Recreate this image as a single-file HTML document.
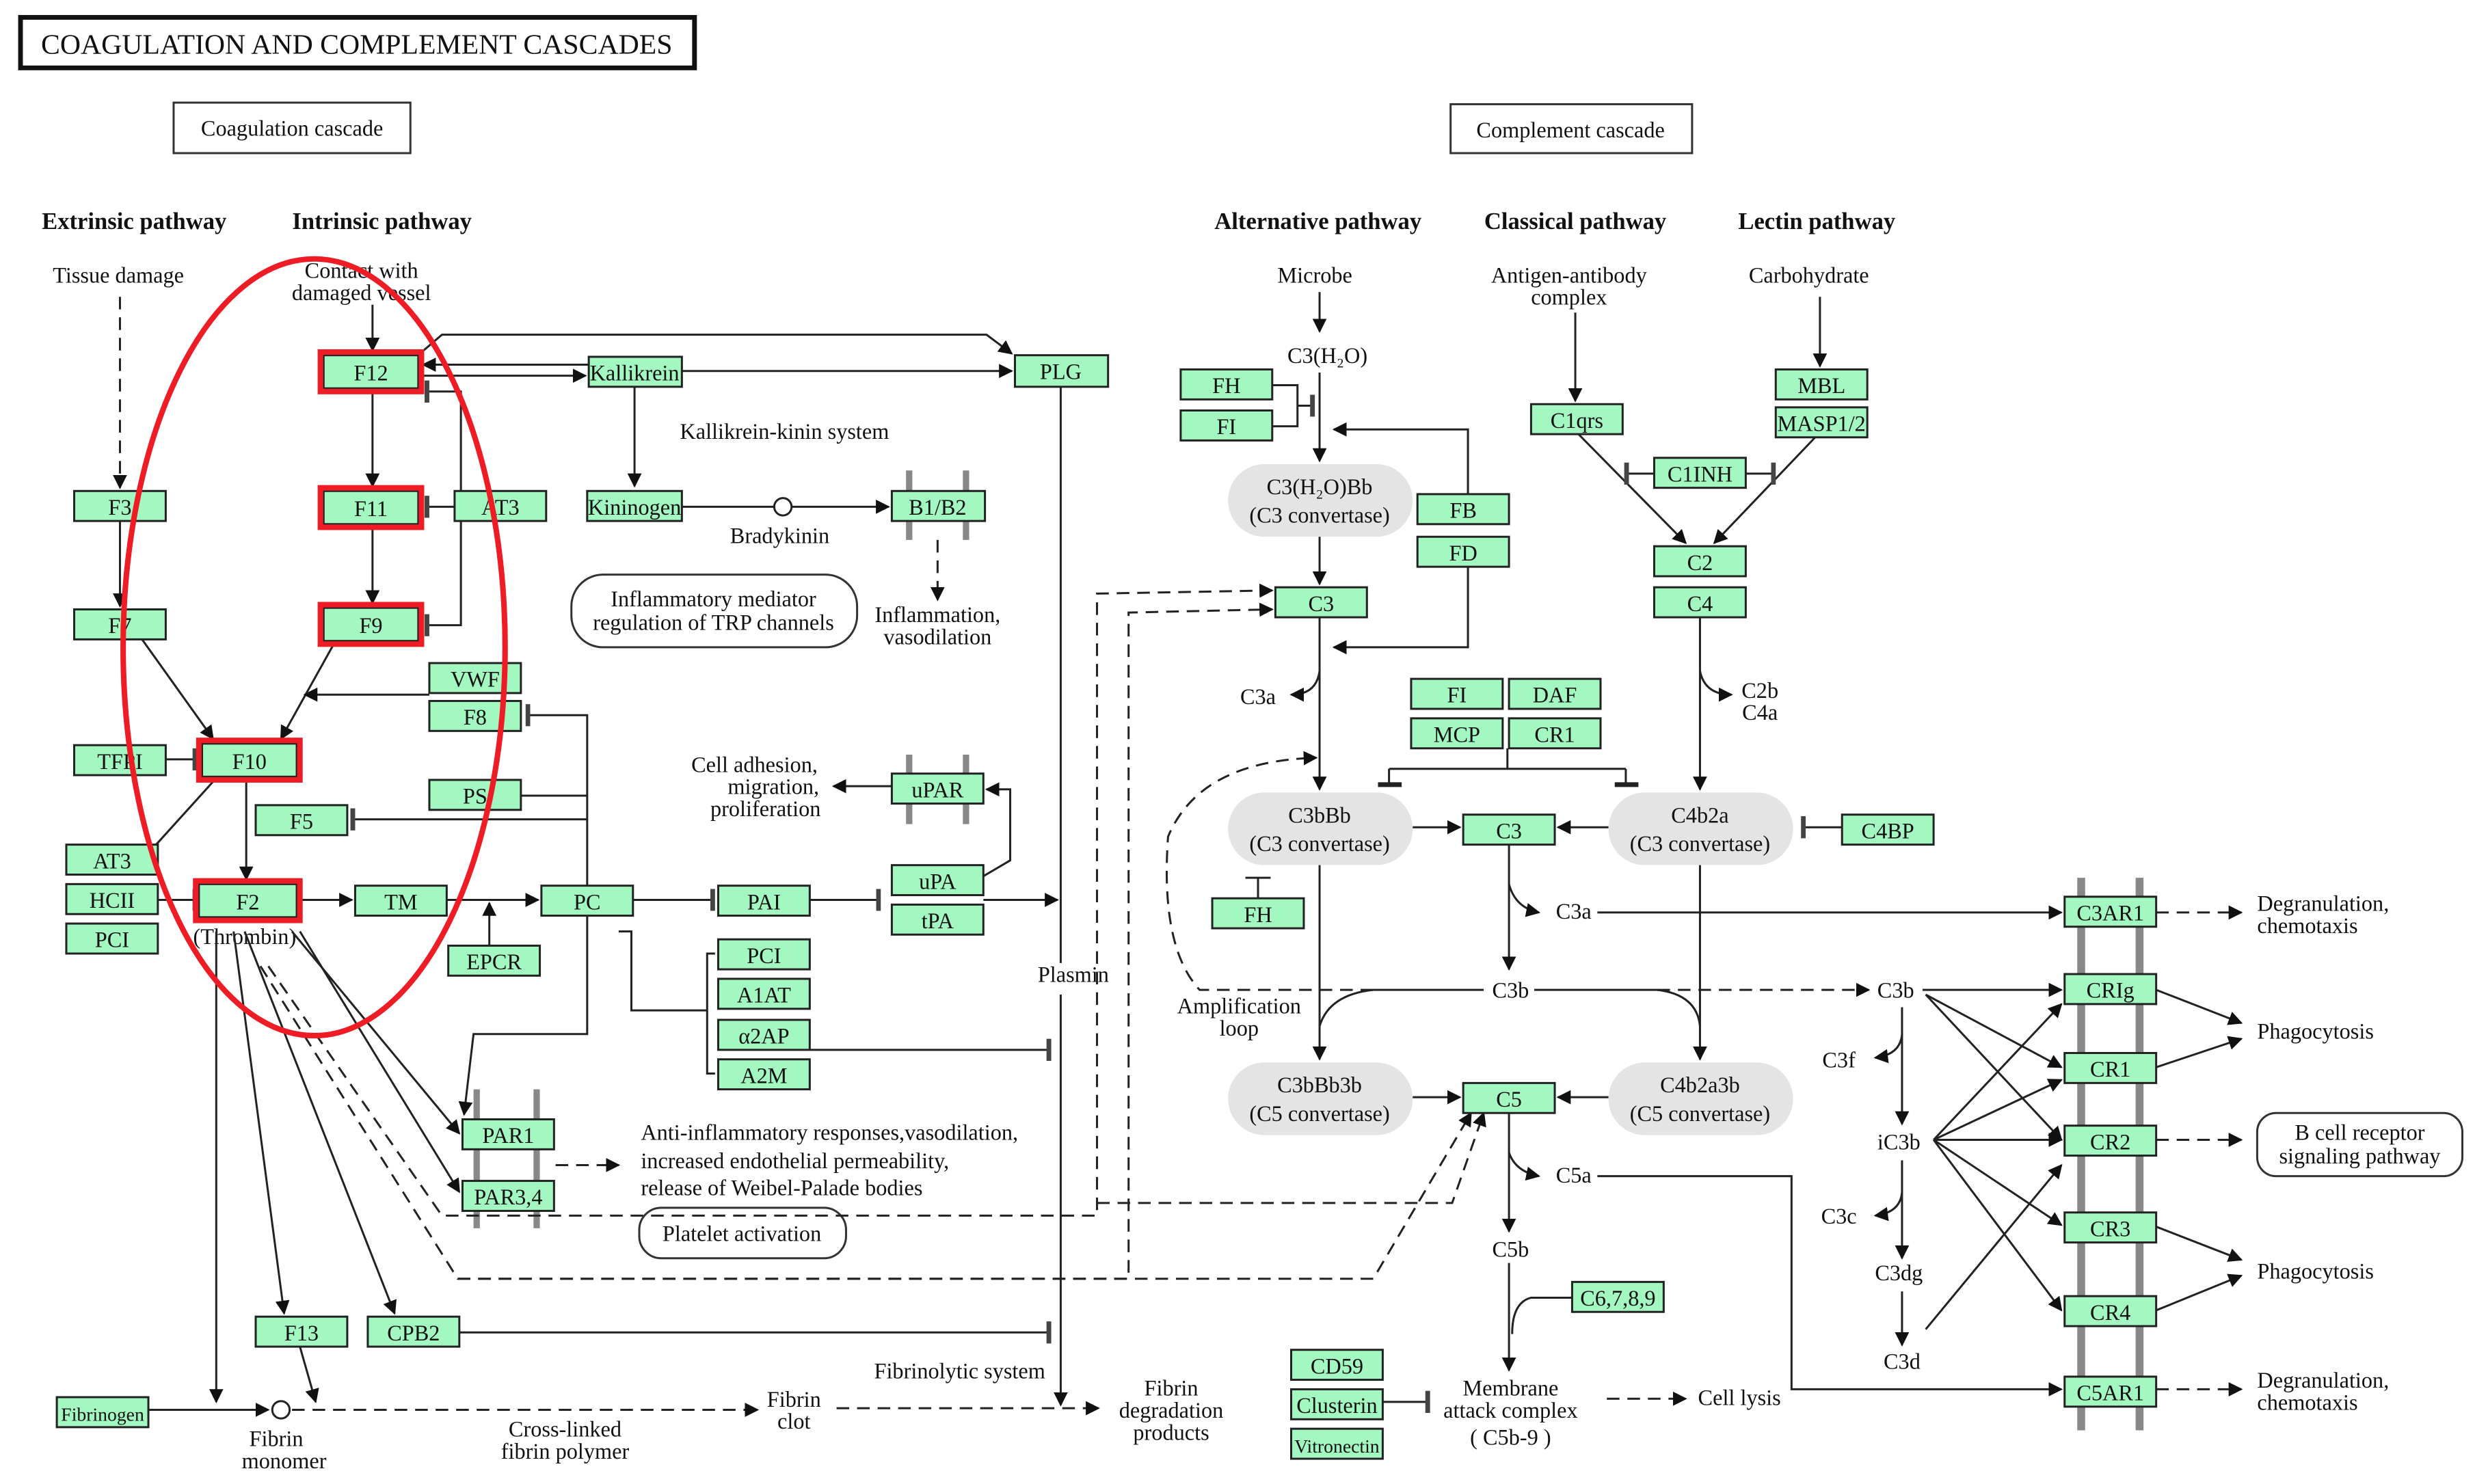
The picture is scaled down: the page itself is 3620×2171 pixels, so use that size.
<!DOCTYPE html>
<html><head><meta charset="utf-8"><style>
html,body{margin:0;padding:0;background:#fff;}
svg{display:block;}
text{font-family:"Liberation Serif",serif;font-size:14px;fill:#111;}
.n rect{fill:#a3f7c0;stroke:#222;stroke-width:1.3;}
.n text{text-anchor:middle;}
.r{fill:none;stroke:#ee1c25;stroke-width:3.5;}
.l{fill:none;stroke:#222;stroke-width:1.3;}
.d{fill:none;stroke:#222;stroke-width:1.3;stroke-dasharray:8,5;}
.e{fill:#e4e4e4;}
.c{text-anchor:middle;}
.b{font-weight:bold;font-size:15px;}
</style></head><body>
<svg width="3620" height="2171" viewBox="0 0 1568 940" preserveAspectRatio="none" xmlns="http://www.w3.org/2000/svg">
<defs>
<marker id="a" viewBox="0 0 10 10" refX="9" refY="5" markerWidth="9" markerHeight="9" orient="auto" markerUnits="userSpaceOnUse"><path d="M0,0L10,5L0,10z" fill="#111"/></marker>
<marker id="t" viewBox="0 0 4 14" refX="2" refY="7" markerWidth="4" markerHeight="14" orient="auto" markerUnits="userSpaceOnUse"><rect x="0" y="0" width="3" height="14" fill="#444"/></marker>
</defs>
<rect width="1568" height="940" fill="#fff"/>
<rect x="13" y="11" width="427" height="32" fill="#fff" stroke="#111" stroke-width="3"/>
<text x="226" y="34" class="c" style="font-size:18px" textLength="400" lengthAdjust="spacingAndGlyphs">COAGULATION AND COMPLEMENT CASCADES</text>
<rect x="110" y="65" width="150" height="32" fill="#fff" stroke="#333" stroke-width="1.3"/>
<text x="185" y="86" class="c">Coagulation cascade</text>
<rect x="919" y="66" width="153" height="31" fill="#fff" stroke="#333" stroke-width="1.3"/>
<text x="995" y="87" class="c">Complement cascade</text>
<text x="85" y="145" class="c b">Extrinsic pathway</text>
<text x="242" y="145" class="c b">Intrinsic pathway</text>
<text x="835" y="145" class="c b">Alternative pathway</text>
<text x="998" y="145" class="c b">Classical pathway</text>
<text x="1151" y="145" class="c b">Lectin pathway</text>

<text x="75" y="179" class="c">Tissue damage</text>
<text x="229" y="176" class="c">Contact with</text>
<text x="229" y="190" class="c">damaged vessel</text>
<text x="497" y="278" class="c">Kallikrein-kinin system</text>
<text x="494" y="344" class="c">Bradykinin</text>
<rect x="362" y="364" width="181" height="46" rx="20" fill="#fff" stroke="#333" stroke-width="1.3"/>
<text x="452" y="384" class="c">Inflammatory mediator</text>
<text x="452" y="399" class="c">regulation of TRP channels</text>
<text x="594" y="394" class="c">Inflammation,</text>
<text x="594" y="408" class="c">vasodilation</text>
<text x="478" y="489" class="c">Cell adhesion,</text>
<text x="490" y="503" class="c">migration,</text>
<text x="485" y="517" class="c">proliferation</text>
<text x="155" y="598" class="c">(Thrombin)</text>
<text x="680" y="622" class="c">Plasmin</text>
<text x="406" y="722">Anti-inflammatory responses,vasodilation,</text>
<text x="406" y="740">increased endothelial permeability,</text>
<text x="406" y="757">release of Weibel-Palade bodies</text>
<rect x="405" y="765" width="131" height="32" rx="14" fill="#fff" stroke="#333" stroke-width="1.3"/>
<text x="470" y="786" class="c">Platelet activation</text>
<text x="608" y="873" class="c">Fibrinolytic system</text>
<text x="503" y="891" class="c">Fibrin</text>
<text x="503" y="905" class="c">clot</text>
<text x="742" y="884" class="c">Fibrin</text>
<text x="742" y="898" class="c">degradation</text>
<text x="742" y="912" class="c">products</text>
<text x="175" y="916" class="c">Fibrin</text>
<text x="180" y="930" class="c">monomer</text>
<text x="358" y="910" class="c">Cross-linked</text>
<text x="358" y="924" class="c">fibrin polymer</text>

<text x="833" y="179" class="c">Microbe</text>
<text x="841" y="230" class="c">C3(H₂O)</text>
<text x="994" y="179" class="c">Antigen-antibody</text>
<text x="994" y="193" class="c">complex</text>
<text x="1146" y="179" class="c">Carbohydrate</text>
<text x="797" y="446" class="c">C3a</text>
<text x="1115" y="442" class="c">C2b</text>
<text x="1115" y="456" class="c">C4a</text>
<text x="997" y="582" class="c">C3a</text>
<text x="957" y="632" class="c">C3b</text>
<text x="785" y="642" class="c">Amplification</text>
<text x="785" y="656" class="c">loop</text>
<text x="997" y="749" class="c">C5a</text>
<text x="957" y="796" class="c">C5b</text>
<text x="957" y="884" class="c">Membrane</text>
<text x="957" y="898" class="c">attack complex</text>
<text x="957" y="915" class="c">( C5b-9 )</text>
<text x="1102" y="890" class="c">Cell lysis</text>
<text x="1201" y="632" class="c">C3b</text>
<text x="1165" y="676" class="c">C3f</text>
<text x="1203" y="728" class="c">iC3b</text>
<text x="1165" y="775" class="c">C3c</text>
<text x="1203" y="811" class="c">C3dg</text>
<text x="1205" y="867" class="c">C3d</text>
<text x="1430" y="577">Degranulation,</text>
<text x="1430" y="591">chemotaxis</text>
<text x="1430" y="658">Phagocytosis</text>
<rect x="1430" y="705" width="130" height="40" rx="12" fill="#fff" stroke="#333" stroke-width="1.3"/>
<text x="1495" y="722" class="c">B cell receptor</text>
<text x="1495" y="737" class="c">signaling pathway</text>
<text x="1430" y="810">Phagocytosis</text>
<text x="1430" y="879">Degranulation,</text>
<text x="1430" y="893">chemotaxis</text>

<rect class="e" x="778" y="294" width="117" height="46" rx="23"/>
<text x="836" y="313" class="c">C3(H₂O)Bb</text><text x="836" y="331" class="c">(C3 convertase)</text>
<rect class="e" x="778" y="502" width="117" height="46" rx="23"/>
<text x="836" y="521" class="c">C3bBb</text><text x="836" y="539" class="c">(C3 convertase)</text>
<rect class="e" x="1019" y="502" width="117" height="46" rx="23"/>
<text x="1077" y="521" class="c">C4b2a</text><text x="1077" y="539" class="c">(C3 convertase)</text>
<rect class="e" x="778" y="673" width="117" height="46" rx="23"/>
<text x="836" y="692" class="c">C3bBb3b</text><text x="836" y="710" class="c">(C5 convertase)</text>
<rect class="e" x="1019" y="673" width="117" height="46" rx="23"/>
<text x="1077" y="692" class="c">C4b2a3b</text><text x="1077" y="710" class="c">(C5 convertase)</text>

<g fill="#888">
<rect x="574" y="298" width="4" height="44"/><rect x="610" y="298" width="4" height="44"/>
<rect x="574" y="478" width="4" height="44"/><rect x="610" y="478" width="4" height="44"/>
<rect x="300" y="690" width="4" height="88"/><rect x="338" y="690" width="4" height="88"/>
<rect x="1316" y="556" width="5" height="350"/><rect x="1353" y="556" width="5" height="350"/>
</g>

<g class="l">
<path d="M76,330V384" marker-end="url(#a)"/>
<path d="M90,405L135,468" marker-end="url(#a)"/>
<path d="M212,407L178,468" marker-end="url(#a)"/>
<path d="M105,481H124" marker-end="url(#t)"/>
<path d="M156,493V557" marker-end="url(#a)"/>
<path d="M236,193V222" marker-end="url(#a)"/>
<path d="M236,246V308" marker-end="url(#a)"/>
<path d="M236,332V382" marker-end="url(#a)"/>
<path d="M288,321H270" marker-end="url(#t)"/>
<path d="M292,321V248H270" marker-end="url(#t)"/>
<path d="M292,321V396H270" marker-end="url(#t)"/>
<path d="M373,231H268" marker-end="url(#a)"/>
<path d="M266,238H371" marker-end="url(#a)"/>
<path d="M266,224L280,212H625L641,224" marker-end="url(#a)"/>
<path d="M432,235H641" marker-end="url(#a)"/>
<path d="M402,245V308" marker-end="url(#a)"/>
<path d="M432,321H490"/>
<path d="M502,321H563" marker-end="url(#a)"/>
<path d="M672,245V610"/>
<path d="M672,630V890" marker-end="url(#a)"/>
<path d="M272,440H193" marker-end="url(#a)"/>
<path d="M372,561V453H334" marker-end="url(#t)"/>
<path d="M372,519H223" marker-end="url(#t)"/>
<path d="M330,504H372"/>
<path d="M188,570H223" marker-end="url(#a)"/>
<path d="M283,570H341" marker-end="url(#a)"/>
<path d="M310,599V572" marker-end="url(#a)"/>
<path d="M401,570H452" marker-end="url(#t)"/>
<path d="M513,570H557" marker-end="url(#t)"/>
<path d="M623,570H670" marker-end="url(#a)"/>
<path d="M623,555L640,545V500H625" marker-end="url(#a)"/>
<path d="M565,498H528" marker-end="url(#a)"/>
<path d="M453,604H448V680H453M448,640H400V590H392"/>
<path d="M513,665H665" marker-end="url(#t)"/>
<path d="M372,580V655H300L294,706" marker-end="url(#a)"/>
<path d="M148,590L180,832" marker-end="url(#a)"/>
<path d="M155,590L250,832" marker-end="url(#a)"/>
<path d="M185,590L291,718" marker-end="url(#a)"/>
<path d="M190,590L291,755" marker-end="url(#a)"/>
<path d="M137,590V888" marker-end="url(#a)"/>
<path d="M190,853L200,888" marker-end="url(#a)"/>
<path d="M291,844H665" marker-end="url(#t)"/>
<path d="M94,893H170" marker-end="url(#a)"/>
<path d="M136,494L98,536"/>
<path d="M100,570H124" marker-end="url(#t)"/>
<path d="M836,185V210" marker-end="url(#a)"/>
<path d="M836,236V292" marker-end="url(#a)"/>
<path d="M806,244H822V270H806M822,257H832" marker-end="url(#t)"/>
<path d="M930,313V272H845" marker-end="url(#a)"/>
<path d="M836,340V370" marker-end="url(#a)"/>
<path d="M930,359V410H845" marker-end="url(#a)"/>
<path d="M836,391V500" marker-end="url(#a)"/>
<path d="M836,425Q834,440 818,440" marker-end="url(#a)"/>
<path d="M998,198V254" marker-end="url(#a)"/>
<path d="M1153,188V232" marker-end="url(#a)"/>
<path d="M1000,275L1068,344" marker-end="url(#a)"/>
<path d="M1150,277L1086,344" marker-end="url(#a)"/>
<path d="M1048,300H1030" marker-end="url(#t)"/>
<path d="M1106,300H1124" marker-end="url(#t)"/>
<path d="M1077,391V500" marker-end="url(#a)"/>
<path d="M1077,425Q1080,440 1097,440" marker-end="url(#a)"/>
<path d="M955,474V487M880,487H1030M880,487V497M1030,487V497"/>
<path d="M873,497H888M1023,497H1038" stroke-width="3"/>
<path d="M895,524H925" marker-end="url(#a)"/>
<path d="M1019,524H987" marker-end="url(#a)"/>
<path d="M1167,524H1142" marker-end="url(#t)"/>
<path d="M797,569V556M789,556H805" />
<path d="M956,535V614" marker-end="url(#a)"/>
<path d="M956,560Q960,575 975,578" marker-end="url(#a)"/>
<path d="M1012,578H1306" marker-end="url(#a)"/>
<path d="M940,627H870Q842,630 836,650"/>
<path d="M972,627H1050Q1075,630 1077,650"/>
<path d="M836,548V671" marker-end="url(#a)"/>
<path d="M1077,548V671" marker-end="url(#a)"/>
<path d="M895,695H925" marker-end="url(#a)"/>
<path d="M1019,695H987" marker-end="url(#a)"/>
<path d="M956,705V780" marker-end="url(#a)"/>
<path d="M956,730Q960,742 975,745" marker-end="url(#a)"/>
<path d="M1012,745H1135V880H1306" marker-end="url(#a)"/>
<path d="M956,800V868" marker-end="url(#a)"/>
<path d="M996,822H970Q958,825 958,845"/>
<path d="M876,888H905" marker-end="url(#t)"/>
<path d="M1218,627H1306" marker-end="url(#a)"/>
<path d="M1220,630L1306,676" marker-end="url(#a)"/>
<path d="M1220,630L1306,722" marker-end="url(#a)"/>
<path d="M1205,638V712" marker-end="url(#a)"/>
<path d="M1205,655Q1204,668 1188,670" marker-end="url(#a)"/>
<path d="M1205,735V797" marker-end="url(#a)"/>
<path d="M1205,755Q1204,768 1188,770" marker-end="url(#a)"/>
<path d="M1205,818V852" marker-end="url(#a)"/>
<path d="M1225,722L1306,636" marker-end="url(#a)"/>
<path d="M1225,722L1306,684" marker-end="url(#a)"/>
<path d="M1225,722H1306" marker-end="url(#a)"/>
<path d="M1225,722L1306,776" marker-end="url(#a)"/>
<path d="M1225,722L1306,830" marker-end="url(#a)"/>
<path d="M1220,842L1306,738" marker-end="url(#a)"/>
<path d="M1366,627L1420,648" marker-end="url(#a)"/>
<path d="M1366,676L1420,658" marker-end="url(#a)"/>
<path d="M1366,777L1420,798" marker-end="url(#a)"/>
<path d="M1366,830L1420,808" marker-end="url(#a)"/>
</g>
<g class="d">
<path d="M76,188V309" marker-end="url(#a)"/>
<path d="M594,342V380" marker-end="url(#a)"/>
<path d="M352,738H392" marker-end="url(#a)"/>
<path d="M185,893H480" marker-end="url(#a)"/>
<path d="M530,892H696" marker-end="url(#a)"/>
<path d="M165,612L290,810H715V388L806,386" marker-end="url(#a)"/>
<path d="M170,612L280,770H695V376L806,374" marker-end="url(#a)"/>
<path d="M290,810H870L932,705" marker-end="url(#a)"/>
<path d="M695,762H920L940,705" marker-end="url(#a)"/>
<path d="M1018,886H1068" marker-end="url(#a)"/>
<path d="M870,627H760Q735,600 740,530Q760,482 834,480" marker-end="url(#a)"/>
<path d="M1050,627H1184" marker-end="url(#a)"/>
<path d="M1366,578H1420" marker-end="url(#a)"/>
<path d="M1366,722H1420" marker-end="url(#a)"/>
<path d="M1366,880H1420" marker-end="url(#a)"/>
</g>
<circle cx="496" cy="321" r="5.5" fill="#fff" stroke="#222" stroke-width="1.3"/>
<circle cx="178" cy="893" r="5.5" fill="#fff" stroke="#222" stroke-width="1.3"/>

<g class="n">
<rect x="47" y="311" width="58" height="19"/><text x="76" y="326">F3</text>
<rect x="47" y="386" width="58" height="19"/><text x="76" y="401">F7</text>
<rect x="47" y="472" width="58" height="19"/><text x="76" y="487">TFPI</text>
<rect x="42" y="535" width="58" height="19"/><text x="71" y="550">AT3</text>
<rect x="42" y="560" width="58" height="19"/><text x="71" y="575">HCII</text>
<rect x="42" y="585" width="58" height="19"/><text x="71" y="600">PCI</text>
<rect x="205" y="225" width="60" height="21"/><text x="235" y="241">F12</text>
<rect x="205" y="311" width="60" height="21"/><text x="235" y="327">F11</text>
<rect x="205" y="385" width="60" height="21"/><text x="235" y="401">F9</text>
<rect x="128" y="471" width="60" height="21"/><text x="158" y="487">F10</text>
<rect x="126" y="560" width="62" height="21"/><text x="157" y="576">F2</text>
<rect x="288" y="311" width="58" height="19"/><text x="317" y="326">AT3</text>
<rect x="373" y="226" width="59" height="19"/><text x="402" y="241">Kallikrein</text>
<rect x="643" y="225" width="59" height="20"/><text x="672" y="240">PLG</text>
<rect x="372" y="311" width="60" height="19"/><text x="402" y="326">Kininogen</text>
<rect x="565" y="311" width="59" height="19"/><text x="594" y="326">B1/B2</text>
<rect x="272" y="420" width="58" height="19"/><text x="301" y="435">VWF</text>
<rect x="272" y="444" width="58" height="19"/><text x="301" y="459">F8</text>
<rect x="272" y="494" width="58" height="19"/><text x="301" y="509">PS</text>
<rect x="162" y="510" width="58" height="19"/><text x="191" y="525">F5</text>
<rect x="565" y="490" width="58" height="19"/><text x="594" y="505">uPAR</text>
<rect x="225" y="561" width="58" height="19"/><text x="254" y="576">TM</text>
<rect x="343" y="561" width="58" height="19"/><text x="372" y="576">PC</text>
<rect x="455" y="561" width="58" height="19"/><text x="484" y="576">PAI</text>
<rect x="565" y="548" width="58" height="19"/><text x="594" y="563">uPA</text>
<rect x="565" y="573" width="58" height="19"/><text x="594" y="588">tPA</text>
<rect x="284" y="599" width="58" height="19"/><text x="313" y="614">EPCR</text>
<rect x="455" y="595" width="58" height="19"/><text x="484" y="610">PCI</text>
<rect x="455" y="620" width="58" height="19"/><text x="484" y="635">A1AT</text>
<rect x="455" y="646" width="58" height="19"/><text x="484" y="661">α2AP</text>
<rect x="455" y="671" width="58" height="19"/><text x="484" y="686">A2M</text>
<rect x="293" y="709" width="58" height="19"/><text x="322" y="724">PAR1</text>
<rect x="293" y="748" width="58" height="19"/><text x="322" y="763">PAR3,4</text>
<rect x="162" y="834" width="58" height="19"/><text x="191" y="849">F13</text>
<rect x="233" y="834" width="58" height="19"/><text x="262" y="849">CPB2</text>
<rect x="36" y="885" width="58" height="19"/><text x="65" y="900" style="font-size:12px">Fibrinogen</text>
<rect x="748" y="234" width="58" height="19"/><text x="777" y="249">FH</text>
<rect x="748" y="260" width="58" height="19"/><text x="777" y="275">FI</text>
<rect x="898" y="313" width="58" height="19"/><text x="927" y="328">FB</text>
<rect x="898" y="340" width="58" height="19"/><text x="927" y="355">FD</text>
<rect x="808" y="372" width="58" height="19"/><text x="837" y="387">C3</text>
<rect x="970" y="256" width="58" height="19"/><text x="999" y="271">C1qrs</text>
<rect x="1125" y="234" width="58" height="19"/><text x="1154" y="249">MBL</text>
<rect x="1125" y="258" width="58" height="19"/><text x="1154" y="273">MASP1/2</text>
<rect x="1048" y="290" width="58" height="19"/><text x="1077" y="305">C1INH</text>
<rect x="1048" y="346" width="58" height="19"/><text x="1077" y="361">C2</text>
<rect x="1048" y="372" width="58" height="19"/><text x="1077" y="387">C4</text>
<rect x="894" y="430" width="58" height="19"/><text x="923" y="445">FI</text>
<rect x="956" y="430" width="58" height="19"/><text x="985" y="445">DAF</text>
<rect x="894" y="455" width="58" height="19"/><text x="923" y="470">MCP</text>
<rect x="956" y="455" width="58" height="19"/><text x="985" y="470">CR1</text>
<rect x="927" y="516" width="58" height="19"/><text x="956" y="531">C3</text>
<rect x="1167" y="516" width="58" height="19"/><text x="1196" y="531">C4BP</text>
<rect x="768" y="569" width="58" height="19"/><text x="797" y="584">FH</text>
<rect x="927" y="686" width="58" height="19"/><text x="956" y="701">C5</text>
<rect x="996" y="812" width="58" height="19"/><text x="1025" y="827">C6,7,8,9</text>
<rect x="818" y="855" width="58" height="19"/><text x="847" y="870">CD59</text>
<rect x="818" y="880" width="58" height="19"/><text x="847" y="895">Clusterin</text>
<rect x="818" y="905" width="58" height="19"/><text x="847" y="920" style="font-size:12px">Vitronectin</text>
<rect x="1308" y="568" width="58" height="19"/><text x="1337" y="583">C3AR1</text>
<rect x="1308" y="617" width="58" height="19"/><text x="1337" y="632">CRIg</text>
<rect x="1308" y="667" width="58" height="19"/><text x="1337" y="682">CR1</text>
<rect x="1308" y="713" width="58" height="19"/><text x="1337" y="728">CR2</text>
<rect x="1308" y="768" width="58" height="19"/><text x="1337" y="783">CR3</text>
<rect x="1308" y="821" width="58" height="19"/><text x="1337" y="836">CR4</text>
<rect x="1308" y="872" width="58" height="19"/><text x="1337" y="887">C5AR1</text>
</g>
<rect class="r" x="203" y="223" width="64" height="25"/>
<rect class="r" x="203" y="309" width="64" height="25"/>
<rect class="r" x="203" y="383" width="64" height="25"/>
<rect class="r" x="126" y="469" width="64" height="25"/>
<rect class="r" x="124" y="558" width="66" height="25"/>
<ellipse class="r" cx="199" cy="410" rx="121" ry="246" stroke-width="3.5"/>
</svg>
</body></html>
